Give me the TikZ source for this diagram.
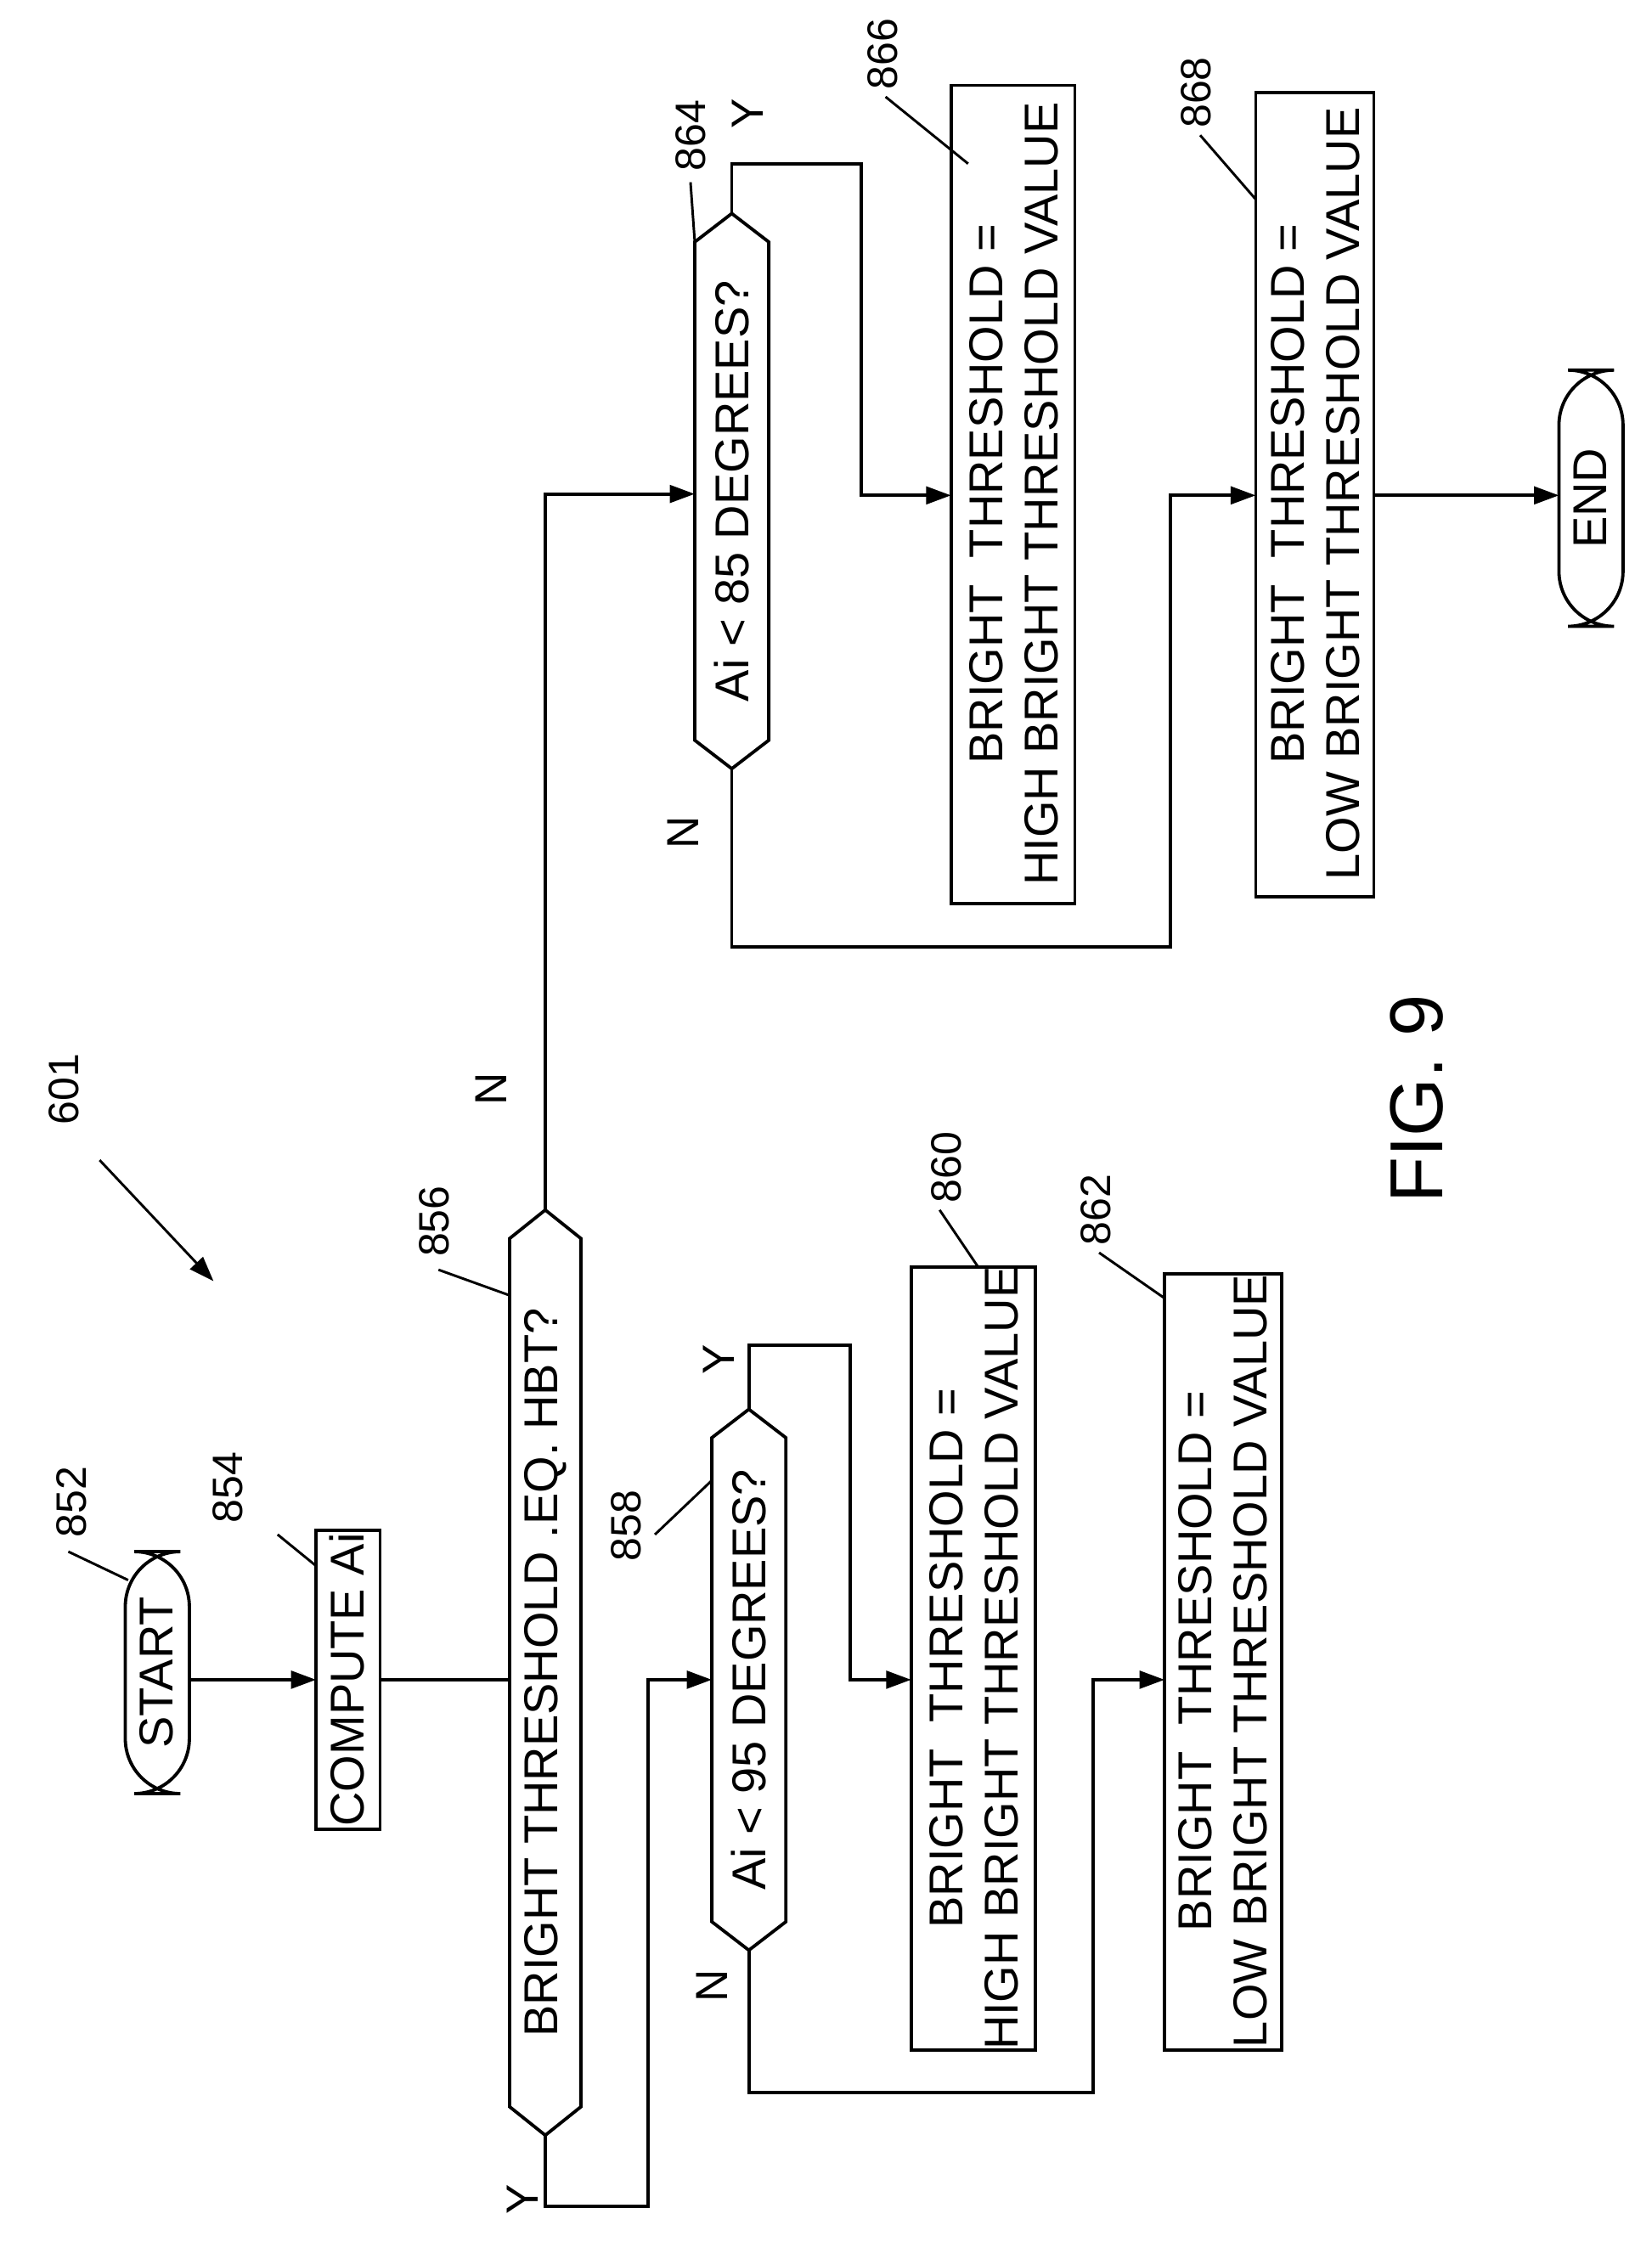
\documentclass[tikz,border=0pt]{standalone}
\usepackage{fontspec}
\setmainfont{Liberation Sans}
\usetikzlibrary{arrows.meta}
\begin{document}
\begin{tikzpicture}[x=0.02cm,y=-0.02cm,
  ln/.style={line width=1.3pt},
  ar/.style={ln,-{Triangle[length=10pt,width=7pt]}},
  txt/.style={rotate=90,font=\fontsize{19}{22}\selectfont,align=center,inner sep=0pt},
  lab/.style={rotate=90,font=\fontsize{17}{20}\selectfont,inner sep=0pt},
  yn/.style={rotate=90,font=\fontsize{18}{20}\selectfont,inner sep=0pt}]
\useasboundingbox (0,0) rectangle (1160,1575);
% START
\draw[ln,rounded corners=22] (88,1090) rectangle (133,1260);
\node[txt] (start) at (110,1175) {START};
\coordinate (startR) at (133,1180);
% COMPUTE
\draw[ln] (222,1075) rectangle (267,1285);
\node[txt] (comp) at (244,1180) {COMPUTE Ai};
\coordinate (compL) at (222,1180); \coordinate (compR) at (267,1180);
\draw[ar] (startR) -- (compL);
% 856
\draw[ln] (358,870) -- (383,850) -- (408,870) -- (408,1480) -- (383,1500) -- (358,1480) -- cycle;
\node[txt] (d856) at (383,1175) {BRIGHT THRESHOLD .EQ. HBT?};
\coordinate (d856L) at (358,1180); \coordinate (d856T) at (383,850); \coordinate (d856B) at (383,1500);
\draw[ln] (compR) -- (d856L);
% 858
\draw[ln] (500,1010) -- (526,990) -- (552,1010) -- (552,1350) -- (526,1370) -- (500,1350) -- cycle;
\node[txt] (d858) at (526,1180) {Ai < 95 DEGREES?};
\coordinate (d858L) at (500,1180); \coordinate (d858T) at (526,990); \coordinate (d858B) at (526,1370);
% 864
\draw[ln] (488,170) -- (514,150) -- (540,170) -- (540,520) -- (514,540) -- (488,520) -- cycle;
\node[txt] (d864) at (514,345) {Ai < 85 DEGREES?};
\coordinate (d864L) at (488,347); \coordinate (d864T) at (514,150); \coordinate (d864B) at (514,540);
% boxes
\draw[ln] (640,890) rectangle (727,1440);
\node[txt] (b860) at (684,1165) {BRIGHT\ \ THRESHOLD =\\HIGH BRIGHT THRESHOLD VALUE};
\draw[ln] (818,895) rectangle (900,1440);
\node[txt] (b862) at (859,1167) {BRIGHT\ \ THRESHOLD =\\LOW BRIGHT THRESHOLD VALUE};
\draw[ln] (668,60) rectangle (755,635);
\node[txt] (b866) at (712,347) {BRIGHT\ \ THRESHOLD =\\HIGH BRIGHT THRESHOLD VALUE};
\draw[ln] (882,65) rectangle (965,630);
\node[txt] (b868) at (924,347) {BRIGHT\ \ THRESHOLD =\\LOW BRIGHT THRESHOLD VALUE};
\coordinate (b860L) at (640,1180); \coordinate (b862L) at (818,1180);
\coordinate (b866L) at (668,348); \coordinate (b868L) at (882,348); \coordinate (b868R) at (965,348);
% END
\draw[ln,rounded corners=22] (1095,260) rectangle (1140,440);
\node[txt] (end) at (1117,350) {END};
\coordinate (endL) at (1095,348);
% connectors
\draw[ar] (d856T) |- (d864L);
\draw[ar] (d856B) -- (383,1550) -| (455,1180) -- (d858L);
\draw[ar] (d858T) -- (526,945) -| (597,1180) -- (b860L);
\draw[ar] (d858B) -- (526,1470) -| (768,1180) -- (b862L);
\draw[ar] (d864T) -- (514,115) -| (605,348) -- (b866L);
\draw[ar] (d864B) -- (514,665) -| (822,348) -- (b868L);
\draw[ar] (b868R) -- (endL);
% Y/N
\node[yn] at (345,765) {N};
\node[yn] at (367,1545) {Y};
\node[yn] at (505,955) {Y};
\node[yn] at (500,1395) {N};
\node[yn] at (525,80) {Y};
\node[yn] at (480,585) {N};
% labels
\node[lab] (l852) at (50,1055) {852};
\draw[ln,line width=1pt] (48,1090) -- (90,1110);
\node[lab] (l854) at (160,1045) {854};
\draw[ln,line width=1pt] (195,1078) -- (222,1100);
\node[lab] (l856) at (305,858) {856};
\draw[ln,line width=1pt] (308,892) -- (358,910);
\node[lab] (l858) at (440,1072) {858};
\draw[ln,line width=1pt] (460,1078) -- (500,1040);
\node[lab] (l860) at (665,820) {860};
\draw[ln,line width=1pt] (660,850) -- (687,890);
\node[lab] (l862) at (770,850) {862};
\draw[ln,line width=1pt] (772,880) -- (818,912);
\node[lab] (l864) at (485,95) {864};
\draw[ln,line width=1pt] (485,128) -- (488,170);
\node[lab] (l866) at (620,38) {866};
\draw[ln,line width=1pt] (622,68) -- (680,115);
\node[lab] (l868) at (840,65) {868};
\draw[ln,line width=1pt] (843,95) -- (882,140);
\node[lab] (l601) at (45,765) {601};
\coordinate (a1) at (70,815); \coordinate (a2) at (150,900);
\draw[ar,line width=1pt] (a1) -- (a2);
\node[rotate=90,font=\fontsize{30}{34}\selectfont] (fig) at (995,772) {FIG. 9};
\end{tikzpicture}
\end{document}
